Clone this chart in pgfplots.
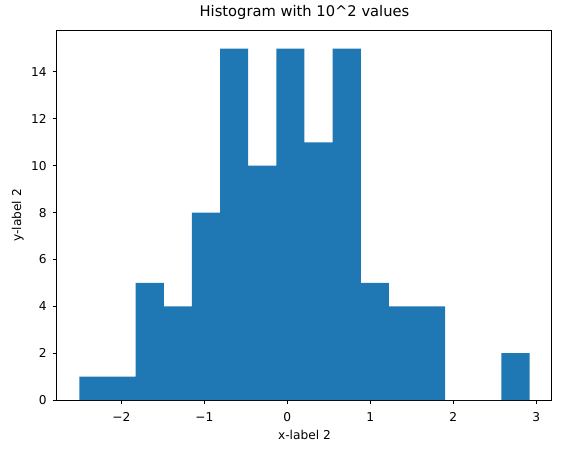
\documentclass[border=0pt]{standalone}
\usepackage{fontspec}
\setmainfont{DejaVu Sans}
\usepackage{pgfplots}
\pgfplotsset{compat=1.18}
\definecolor{mplblue}{HTML}{1F77B4}
\begin{document}
\begin{tikzpicture}
\useasboundingbox (-57pt,-53pt) rectangle (506pt,400pt);
\begin{axis}[
  at={(0pt,0pt)}, anchor=south west,
  scale only axis, width=495pt, height=369pt,
  xmin=-2.776, xmax=3.19, ymin=0, ymax=15.75,
  axis line style={line width=1pt},
  xtick={-2,-1,0,1,2,3},
  xticklabels={−2,−1,0,1,2,3},
  ytick={0,2,4,6,8,10,12,14},
  xtick pos=lower, ytick pos=left,
  tick align=outside,
  major tick length=4.3pt,
  every tick/.style={black, line width=1pt},
  /pgf/number format/assume math mode=true,
  tick label style={font=\fontsize{12.2}{14}\selectfont},
  xticklabel style={yshift=-4.5pt},
  yticklabel style={xshift=-2.5pt},
  label style={font=\fontsize{12.2}{14}\selectfont},
  title style={font=\fontsize{14.7}{17}\selectfont, at={(axis description cs:0.5,1.0217)}, anchor=base},
  xlabel style={at={(axis description cs:0.5,-0.1071)}, anchor=base},
  ylabel style={at={(axis description cs:-0.0727,0.5)}, anchor=base},
  title={Histogram with 10\textasciicircum 2 values},
  xlabel={x-label 2},
  ylabel={y-label 2},
]
\addplot[ybar interval, fill=mplblue, draw=none] coordinates {
(-2.505,1) (-2.166,1) (-1.827,5) (-1.488,4) (-1.149,8) (-0.810,15)
(-0.471,10) (-0.132,15) (0.207,11) (0.546,15) (0.885,5) (1.224,4)
(1.563,4) (1.902,0) (2.241,0) (2.580,2) (2.919,2)
};
\end{axis}
\end{tikzpicture}
\end{document}
